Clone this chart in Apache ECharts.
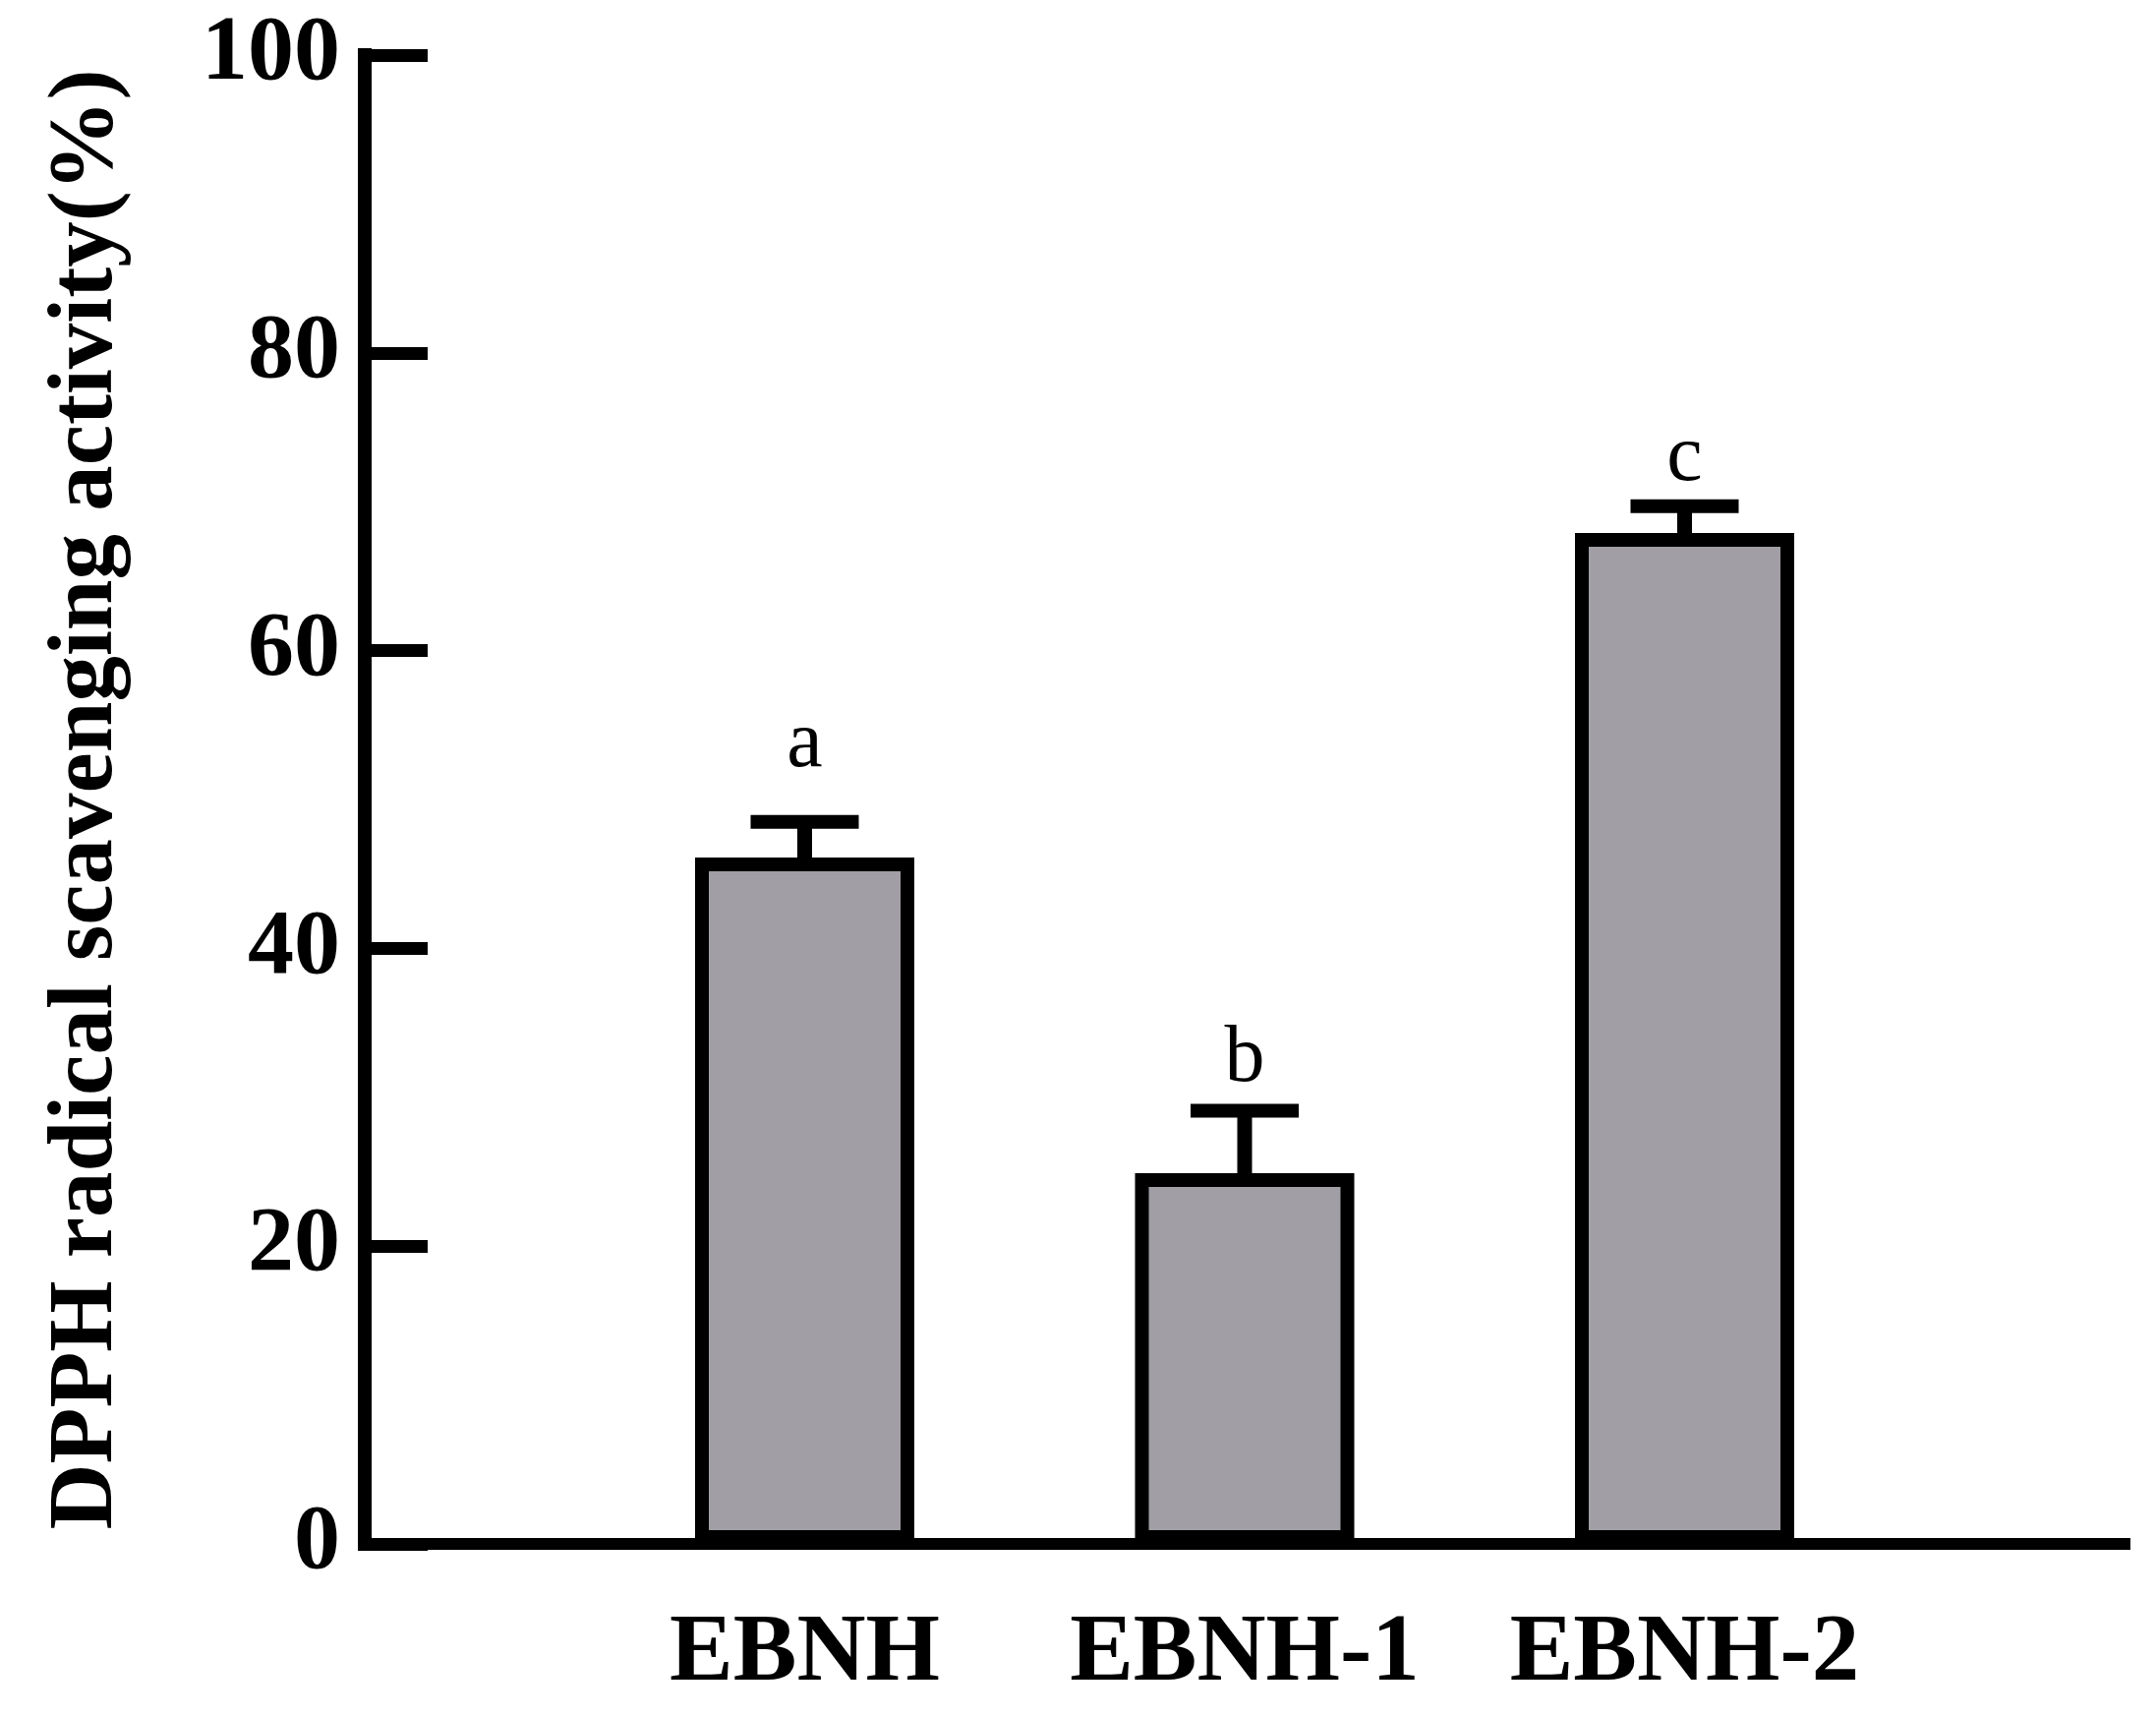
<!DOCTYPE html>
<html>
<head>
<meta charset="utf-8">
<script src="https://cdn.jsdelivr.net/npm/echarts@6/dist/echarts.min.js"></script>
<style>
  html, body { margin: 0; padding: 0; background: #fff; }
  #main { width: 2193px; height: 1746px; }
</style>
</head>
<body>
<div id="main"></div>
<script>
// data
var categories = ['EBNH', 'EBNH-1', 'EBNH-2'];
var means = [46.1, 24.9, 67.9];
var errors = [2.4, 4.2, 1.8];
var letters = ['a', 'b', 'c'];
var letterPos = [53.7, 32.5, 72.9];
var yMin = 0, yMax = 100, yStep = 20;

var font = 'Liberation Serif';

// empty slot at each end so the bars sit on the inner ticks
var axisCats = [''].concat(categories, ['']);
var barData = ['-'].concat(means, ['-']);
var errData = categories.map(function (c, i) {
    return [i + 1, means[i], errors[i], letterPos[i]];
});

var myChart = echarts.init(document.getElementById('main'));

var option = {
    backgroundColor: '#fff',
    animation: false,
    grid: { left: 371, right: 32, top: 56, bottom: 176 },
    xAxis: {
        type: 'category',
        data: axisCats,
        boundaryGap: false,
        axisLine: { lineStyle: { color: '#000', width: 12, cap: 'square' } },
        axisTick: { show: false },
        axisLabel: {
            color: '#000',
            fontFamily: font,
            fontWeight: 'bold',
            fontSize: 97,
            margin: 64,
            interval: 0
        },
        splitLine: { show: false }
    },
    yAxis: {
        type: 'value',
        min: yMin,
        max: yMax,
        interval: yStep,
        name: 'DPPH radical scavenging activity(%)',
        nameLocation: 'middle',
        nameRotate: 90,
        nameGap: 236,
        nameTextStyle: {
            color: '#000',
            fontFamily: font,
            fontWeight: 'bold',
            fontSize: 93
        },
        axisLine: { show: true, lineStyle: { color: '#000', width: 14, cap: 'square' } },
        axisTick: {
            show: true,
            inside: true,
            length: 64,
            lineStyle: { color: '#000', width: 13 }
        },
        axisLabel: {
            color: '#000',
            fontFamily: font,
            fontWeight: 'bold',
            fontSize: 94,
            margin: 25
        },
        splitLine: { show: false }
    },
    series: [
        {
            type: 'bar',
            data: barData,
            barWidth: 223,
            itemStyle: {
                color: '#a19fa5',
                borderColor: '#000',
                borderWidth: 14
            },
            z: 2
        },
        {
            type: 'custom',
            data: errData,
            z: 3,
            renderItem: function (params, api) {
                var x = api.value(0);
                var base = api.coord([x, api.value(1)]);
                var top = api.coord([x, api.value(1) + api.value(2)]);
                var lab = api.coord([x, api.value(3)]);
                var half = 55;
                return {
                    type: 'group',
                    children: [
                        {
                            type: 'line',
                            shape: { x1: base[0], y1: base[1], x2: top[0], y2: top[1] },
                            style: { stroke: '#000', lineWidth: 15 }
                        },
                        {
                            type: 'line',
                            shape: { x1: top[0] - half, y1: top[1], x2: top[0] + half, y2: top[1] },
                            style: { stroke: '#000', lineWidth: 14 }
                        },
                        {
                            type: 'text',
                            x: lab[0],
                            y: lab[1],
                            style: {
                                text: letters[params.dataIndex],
                                font: '82px "Liberation Serif"',
                                fill: '#000',
                                align: 'center',
                                verticalAlign: 'middle'
                            }
                        }
                    ]
                };
            }
        }
    ]
};

myChart.setOption(option);
</script>
</body>
</html>
